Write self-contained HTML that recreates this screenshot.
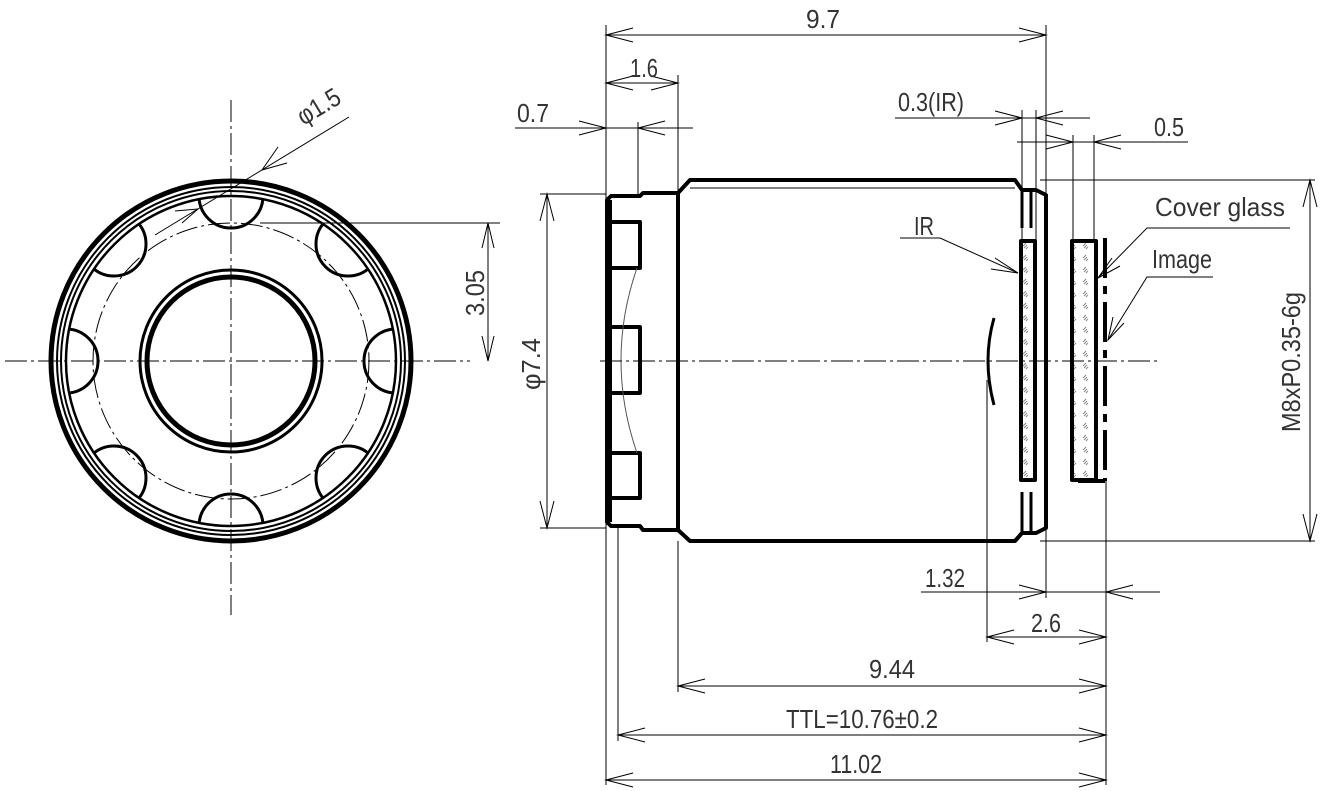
<!DOCTYPE html>
<html><head><meta charset="utf-8"><style>
html,body{margin:0;padding:0;background:#fff}
svg{display:block}
text{font-family:"Liberation Sans",sans-serif;font-size:26px;fill:#333}
</style></head><body>
<svg width="1334" height="791" viewBox="0 0 1334 791" xmlns="http://www.w3.org/2000/svg">
<defs>
<clipPath id="ring"><circle cx="231" cy="361" r="164"/></clipPath>
<pattern id="hat" width="12" height="12" patternUnits="userSpaceOnUse">
<path d="M3 6l3-3M4 8l3-3M6 9l2-2" stroke="#888" stroke-width="1"/>
</pattern>
</defs>
<g fill="none" stroke="#000">
<g stroke-dasharray="22 4 3 4" stroke-width="1">
<line x1="5" y1="361" x2="470" y2="361"/>
<line x1="231" y1="100" x2="231" y2="615"/>
<circle cx="231" cy="361" r="138"/>
</g>
<circle cx="231" cy="361" r="180" stroke-width="5"/>
<circle cx="231" cy="361" r="174" stroke-width="2"/>
<circle cx="231" cy="361" r="170" stroke-width="2"/>
<circle cx="231" cy="361" r="165" stroke-width="2.5"/>
<circle cx="231" cy="361" r="91" stroke-width="3"/>
<circle cx="231" cy="361" r="84" stroke-width="5"/>
<g clip-path="url(#ring)" stroke-width="3">
<circle cx="231" cy="196" r="32"/><circle cx="231" cy="526" r="32"/>
<circle cx="66" cy="361" r="32"/><circle cx="396" cy="361" r="32"/>
<circle cx="114" cy="244" r="32"/><circle cx="348" cy="244" r="32"/>
<circle cx="114" cy="478" r="32"/><circle cx="348" cy="478" r="32"/>
</g>
<g stroke-width="1">
<line x1="260" y1="223" x2="500" y2="223"/>
<line x1="488" y1="223" x2="488" y2="361"/>
<polyline points="482,248 488,223 494,248"/>
<polyline points="482,336 488,361 494,336"/>
<line x1="349" y1="117" x2="155" y2="235"/>
<polyline points="278,147 262,170 287,163"/>
<polyline points="175,211 198,209 182,223"/>
</g>
<g stroke-width="4" stroke-linejoin="round">
<path d="M607,200 L611,196 L640,196 L643,193 L678,193 L678,530 L643,530 L640,526 L611,526 L607,522 Z"/>
<path d="M607,222 L640,222 L640,268 L607,268 M607,327 L640,327 L640,393 L607,393 M607,453 L640,453 L640,498 L607,498"/>
<line x1="609" y1="200" x2="609" y2="522" stroke-width="6"/>
<path d="M678,193 L690,180 L1015,180 L1022,190 L1036,190 L1046,195 L1046,528 L1036,533 L1022,533 L1015,541 L690,541 L678,530"/>
<line x1="1022" y1="190" x2="1022" y2="228" stroke-width="3"/>
<line x1="1031" y1="192" x2="1031" y2="228" stroke-width="3"/>
<line x1="1022" y1="492" x2="1022" y2="533" stroke-width="3"/>
<line x1="1031" y1="492" x2="1031" y2="533" stroke-width="3"/>
<rect x="1021" y="241" width="14" height="239" fill="url(#hat)"/>
<rect x="1072" y="241" width="24" height="239" fill="url(#hat)"/>
<line x1="1078" y1="481" x2="1105" y2="481"/>
<line x1="1105" y1="238" x2="1105" y2="481" stroke-dasharray="40 8 8 8"/>
<path d="M994,318 Q982,360 994,405" stroke-width="3"/>
</g>
<line x1="690" y1="188" x2="1015" y2="188" stroke-width="1"/>
<path d="M637,268 Q605,360 637,453" stroke-width="1" stroke="#555"/>
<line x1="600" y1="361" x2="1160" y2="361" stroke-width="1" stroke-dasharray="22 4 3 4"/>
<g stroke-width="1">
<line x1="606" y1="25" x2="606" y2="785"/>
<line x1="1046" y1="25" x2="1046" y2="195"/>
<line x1="606" y1="35" x2="1046" y2="35"/>
<polyline points="633,28 606,35 633,42"/><polyline points="1019,28 1046,35 1019,42"/>
<line x1="678" y1="75" x2="678" y2="193"/>
<line x1="606" y1="83" x2="678" y2="83"/>
<polyline points="633,76 606,83 633,90"/><polyline points="651,76 678,83 651,90"/>
<line x1="638" y1="122" x2="638" y2="196"/>
<line x1="515" y1="128" x2="693" y2="128"/>
<polyline points="579,121 606,128 579,135"/><polyline points="665,121 638,128 665,135"/>
<line x1="1022" y1="110" x2="1022" y2="241"/>
<line x1="1036" y1="110" x2="1036" y2="241"/>
<line x1="895" y1="118" x2="1090" y2="118"/>
<polyline points="995,111 1022,118 995,125"/><polyline points="1063,111 1036,118 1063,125"/>
<line x1="1073" y1="135" x2="1073" y2="241"/>
<line x1="1094" y1="135" x2="1094" y2="241"/>
<line x1="1017" y1="142" x2="1188" y2="142"/>
<polyline points="1046,135 1073,142 1046,149"/><polyline points="1121,135 1094,142 1121,149"/>
<line x1="1040" y1="180" x2="1315" y2="180"/>
<line x1="1040" y1="541" x2="1315" y2="541"/>
<line x1="1310" y1="180" x2="1310" y2="541"/>
<polyline points="1303,207 1310,180 1317,207"/><polyline points="1303,514 1310,541 1317,514"/>
<line x1="540" y1="194" x2="606" y2="194"/>
<line x1="540" y1="528" x2="606" y2="528"/>
<line x1="547" y1="194" x2="547" y2="528"/>
<polyline points="540,221 547,194 554,221"/><polyline points="540,501 547,528 554,501"/>
<line x1="987" y1="380" x2="987" y2="642"/>
<line x1="1046" y1="528" x2="1046" y2="598"/>
<line x1="1106" y1="480" x2="1106" y2="785"/>
<line x1="921" y1="592" x2="1160" y2="592"/>
<polyline points="1019,585 1046,592 1019,599"/><polyline points="1133,585 1106,592 1133,599"/>
<line x1="987" y1="637" x2="1106" y2="637"/>
<polyline points="1014,630 987,637 1014,644"/><polyline points="1079,630 1106,637 1079,644"/>
<line x1="678" y1="541" x2="678" y2="692"/>
<line x1="678" y1="686" x2="1106" y2="686"/>
<polyline points="705,679 678,686 705,693"/><polyline points="1079,679 1106,686 1079,693"/>
<line x1="618" y1="528" x2="618" y2="741"/>
<line x1="618" y1="735" x2="1106" y2="735"/>
<polyline points="645,728 618,735 645,742"/><polyline points="1079,728 1106,735 1079,742"/>
<line x1="606" y1="780" x2="1106" y2="780"/>
<polyline points="633,773 606,780 633,787"/><polyline points="1079,773 1106,780 1079,787"/>
<polyline points="900,238 940,238 1018,273"/>
<polyline points="995,258 1018,273 991,269"/>
<polyline points="1290,228 1147,228 1098,278"/>
<polyline points="1112,258 1098,278 1120,266"/>
<polyline points="1213,277 1147,277 1108,340"/>
<polyline points="1113,317 1108,340 1124,323"/>
</g>
</g>
<text x="298" y="118" transform="rotate(-31 315 112)" textLength="46" lengthAdjust="spacingAndGlyphs">φ1.5</text>
<text x="0" y="0" transform="translate(484,316) rotate(-90)" textLength="46" lengthAdjust="spacingAndGlyphs">3.05</text>
<text x="806" y="28" textLength="34" lengthAdjust="spacingAndGlyphs">9.7</text>
<text x="630" y="77" textLength="28" lengthAdjust="spacingAndGlyphs">1.6</text>
<text x="517" y="122" textLength="32" lengthAdjust="spacingAndGlyphs">0.7</text>
<text x="898" y="111" textLength="66" lengthAdjust="spacingAndGlyphs">0.3(IR)</text>
<text x="1154" y="136" textLength="30" lengthAdjust="spacingAndGlyphs">0.5</text>
<text x="1155" y="216" textLength="130" lengthAdjust="spacingAndGlyphs">Cover glass</text>
<text x="1152" y="268" textLength="60" lengthAdjust="spacingAndGlyphs">Image</text>
<text x="914" y="235" textLength="20" lengthAdjust="spacingAndGlyphs">IR</text>
<text x="0" y="0" transform="translate(1300,432) rotate(-90)" textLength="140" lengthAdjust="spacingAndGlyphs">M8xP0.35-6g</text>
<text x="0" y="0" transform="translate(540,390) rotate(-90)" textLength="52" lengthAdjust="spacingAndGlyphs">φ7.4</text>
<text x="925" y="587" textLength="40" lengthAdjust="spacingAndGlyphs">1.32</text>
<text x="1031" y="632" textLength="30" lengthAdjust="spacingAndGlyphs">2.6</text>
<text x="869" y="678" textLength="46" lengthAdjust="spacingAndGlyphs">9.44</text>
<text x="786" y="728" textLength="152" lengthAdjust="spacingAndGlyphs">TTL=10.76±0.2</text>
<text x="830" y="773" textLength="52" lengthAdjust="spacingAndGlyphs">11.02</text>
</svg>
</body></html>
